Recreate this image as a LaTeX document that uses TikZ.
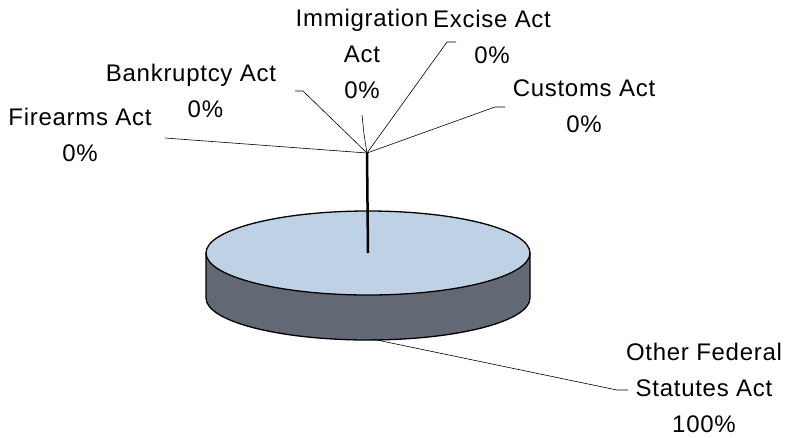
\documentclass[tikz,border=0pt]{standalone}
\usepackage{fontspec}
\setmainfont{Liberation Sans}[LetterSpace=3]
\usetikzlibrary{calc}

\definecolor{pietop}{RGB}{191,209,229}
\definecolor{pieside}{RGB}{98,104,116}

\tikzset{
  lbl/.style = {align = center, inner sep = 0pt, font = \fontsize{24}{36}\selectfont},
  leader/.style = {line width = 0.6pt},
  rim/.style = {line width = 1.3pt, draw = black}
}

\begin{document}
\begin{tikzpicture}[x = 1pt, y = -1pt]
\useasboundingbox (0, 0) rectangle (792, 437);
% pie
\coordinate (c) at (368, 253);
\coordinate (hub) at (367, 153);
\fill[pieside] (206, 253) -- (206, 298) arc (180:0:162 and 42) -- (530, 253) -- cycle;
\draw[rim] (206, 253) -- (206, 298) arc (180:0:162 and 42) -- (530, 253);
\draw[rim, fill = pietop] (c) ellipse (162 and 42);
\draw[line width = 2.5pt] (c) -- (hub);
% labels
\node[lbl] (fire) at (80, 135) {Firearms Act\\0\%};
\node[lbl] (bank) at (191, 91) {Bankruptcy Act\\\hspace*{1.2em}0\%};
\node[lbl] (immig) at (362, 54) {Immigration\\Act\\0\%};
\node[lbl] (excise) at (492, 37) {Excise Act\\0\%};
\node[lbl] (customs) at (584, 106) {Customs Act\\0\%};
\node[lbl] (other) at (704, 388) {Other Federal\\Statutes Act\\100\%};
% leader lines
\coordinate (fireend) at (165, 138);
\coordinate (bankend) at (295, 91);
\coordinate (immigend) at (362, 115);
\coordinate (exciseend) at (456, 42);
\coordinate (customsend) at (505, 107);
\coordinate (otherstart) at (372, 339);
\coordinate (otherend) at (628, 390);
\draw[leader] (hub) -- (fireend);
\draw[leader] (hub) -- (303, 91) -- (bankend);
\draw[leader] (hub) .. controls (364, 135) .. (immigend);
\draw[leader] (hub) -- (447, 42) -- (exciseend);
\draw[leader] (hub) -- (495, 107) -- (customsend);
\draw[leader] (otherstart) -- (617, 390) -- (otherend);
\end{tikzpicture}
\end{document}
